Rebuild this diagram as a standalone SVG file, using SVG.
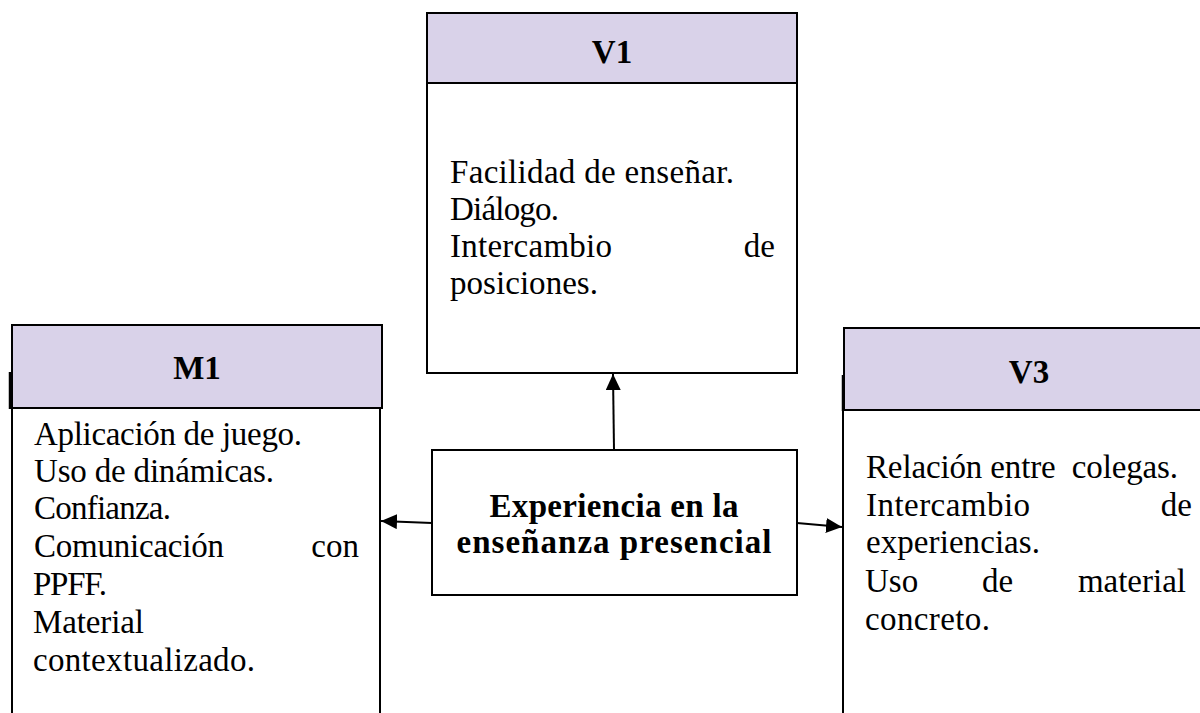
<svg xmlns="http://www.w3.org/2000/svg" width="1200" height="713" viewBox="0 0 1200 713">
<style>
.body{fill:#ffffff;stroke:#000;stroke-width:2}
.head{fill:#d9d2e9;stroke:#000;stroke-width:2}
.t{font-family:"Liberation Serif","DejaVu Serif",serif;font-size:33px;fill:#000}
.r{text-anchor:end}
.h{font-family:"Liberation Serif","DejaVu Serif",serif;font-size:33px;font-weight:bold;fill:#000;text-anchor:middle}
.conn{stroke:#000;stroke-width:2;fill:none}
</style>
<defs>
<marker id="arr" markerUnits="userSpaceOnUse" markerWidth="18" markerHeight="16" refX="16" refY="7.5" orient="auto" viewBox="0 0 18 16">
<path d="M0,0 L16,7.5 L0,15 Z" fill="#000"/>
</marker>
</defs>
<rect width="1200" height="713" fill="#fff"/>

<g id="V1">
<rect class="body" x="427" y="13" width="370" height="360"/>
<rect class="head" x="427" y="13" width="370" height="70"/>
<text class="h" x="612" y="63">V1</text>
<text class="t" x="450" y="183" textLength="284">Facilidad de enseñar.</text>
<text class="t" x="450" y="220" textLength="109">Diálogo.</text>
<text class="t" x="450" y="257" textLength="162">Intercambio</text>
<text class="t r" x="775" y="257">de</text>
<text class="t" x="450" y="294" textLength="148">posiciones.</text>
</g>

<g id="M1">
<rect class="body" x="12" y="408" width="368" height="320"/>
<rect class="head" x="12" y="325" width="370" height="83"/>
<line x1="10" y1="372" x2="10" y2="409" stroke="#000" stroke-width="2.5"/>
<text class="h" x="197" y="379">M1</text>
<text class="t" x="34" y="445" textLength="268">Aplicación de juego.</text>
<text class="t" x="34" y="482" textLength="240">Uso de dinámicas.</text>
<text class="t" x="34" y="519" textLength="137">Confianza.</text>
<text class="t" x="34" y="557" textLength="190">Comunicación</text>
<text class="t r" x="359" y="557">con</text>
<text class="t" x="33" y="595" textLength="74">PPFF.</text>
<text class="t" x="33" y="633" textLength="111">Material</text>
<text class="t" x="33" y="671" textLength="222">contextualizado.</text>
</g>

<g id="V3">
<rect class="body" x="843" y="410" width="380" height="320"/>
<rect class="head" x="844" y="328" width="370" height="82"/>
<line x1="843" y1="375" x2="843" y2="411" stroke="#000" stroke-width="2.5"/>
<text class="h" x="1029" y="383">V3</text>
<text class="t" x="866" y="478" textLength="312" xml:space="preserve">Relación entre  colegas.</text>
<text class="t" x="866" y="516" textLength="164">Intercambio</text>
<text class="t r" x="1192" y="516">de</text>
<text class="t" x="866" y="553" textLength="174">experiencias.</text>
<text class="t" x="865" y="592">Uso</text>
<text class="t" x="982" y="592">de</text>
<text class="t r" x="1186" y="592">material</text>
<text class="t" x="865" y="630" textLength="125">concreto.</text>
</g>

<g id="center">
<rect class="body" x="432" y="450" width="365" height="145"/>
<text class="h" x="614" y="517" textLength="249">Experiencia en la</text>
<text class="h" x="614" y="553" textLength="315">enseñanza presencial</text>
</g>

<g id="connectors">
<line class="conn" x1="614" y1="450" x2="613" y2="374" marker-end="url(#arr)"/>
<line class="conn" x1="432" y1="523" x2="381" y2="521" marker-end="url(#arr)"/>
<line class="conn" x1="797" y1="523" x2="842" y2="527" marker-end="url(#arr)"/>
</g>
</svg>
